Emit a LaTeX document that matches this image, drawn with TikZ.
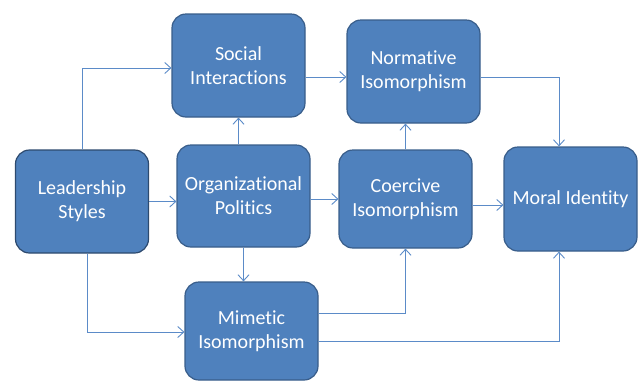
\documentclass[tikz,border=0pt]{standalone}
\usepackage{fontspec}
\setmainfont{Carlito}[Ligatures=NoCommon]
\usetikzlibrary{arrows.meta}
\definecolor{boxfill}{HTML}{4F81BD}
\definecolor{boxedge}{HTML}{385D8A}
\definecolor{linkblue}{HTML}{5B8BC8}
\begin{document}
\begin{tikzpicture}[x=1pt, y=-1pt]
        % Define styles
        \tikzset{
            box/.style={draw=boxedge, fill=boxfill, line width=1.2pt, rounded corners=14pt,
                text=white, align=center, inner sep=0pt, minimum width=133pt,
                font=\fontsize{20}{24}\selectfont},
            link/.style={draw=linkblue, line width=0.9pt, -{Straight Barb[length=6pt, width=11pt]}}
        }
        \useasboundingbox (0,0) rectangle (639,381);
        % Boxes
        \node[box, minimum height=103pt, draw=boxedge!80!black] (lead) at (82,201.5) {Leadership\\Styles};
        \node[box, minimum height=103pt] (social) at (238.5,65.5) {Social\\Interactions};
        \node[box, minimum height=103pt] (norm) at (413.5,71.5) {Normative\\Isomorphism};
        \node[box, minimum height=102pt] (politics) at (243.5,196) {Organizational\\Politics};
        \node[box, minimum height=98pt] (coerc) at (405.5,199) {Coercive\\Isomorphism};
        \node[box, minimum height=104pt] (moral) at (570.5,199) {Moral Identity};
        \node[box, minimum height=98pt] (mimetic) at (251.5,331) {Mimetic\\Isomorphism};
        % Helper points on the box sides
        \coordinate (normin) at ([yshift=-5.5pt]norm.west);
        \coordinate (coercout) at ([yshift=-6pt]coerc.east);
        \coordinate (moraltop) at ([xshift=-11.5pt]moral.north);
        \coordinate (moralbot) at ([xshift=-11.5pt]moral.south);
        % Leadership Styles outputs
        \draw[link] (lead.north) |- ([yshift=-2.5pt]social.west);
        \draw[link] (lead.east) -- (politics.west |- lead.east);
        \draw[link] ([xshift=5pt]lead.south) |- ([yshift=-1pt]mimetic.west);
        % Organizational Politics outputs
        \draw[link] (social.south |- politics.north) -- (social.south);
        \draw[link] (politics.south) -- (politics.south |- mimetic.north);
        \draw[link] (politics.east |- coerc.west) -- (coerc.west);
        % Upper row
        \draw[link] (social.east |- normin) -- (normin);
        \draw[link] (norm.east |- normin) -| (moraltop);
        % Coercive Isomorphism outputs
        \draw[link] (coerc.north) -- (coerc.north |- norm.south);
        \draw[link] (coercout) -- (moral.west |- coercout);
        % Mimetic Isomorphism outputs
        \draw[link] ([yshift=18pt]mimetic.east) -| (coerc.south);
        \draw[link] ([yshift=-10pt]mimetic.east) -| (moralbot);
\end{tikzpicture}
\end{document}
